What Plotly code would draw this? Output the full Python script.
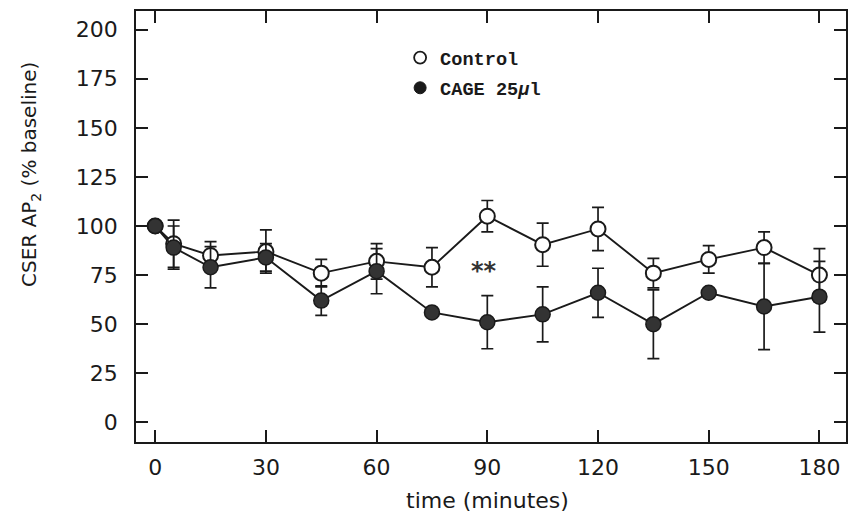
import plotly.graph_objects as go

time = [0, 5, 15, 30, 45, 60, 75, 90, 105, 120, 135, 150, 165, 180]
control = [100, 91, 85, 87, 76, 82, 79, 105, 90.5, 98.5, 76, 83, 89, 75]
control_err = [0, 12, 7, 11, 7, 9, 10, 8, 11, 11, 7.5, 7, 8, 13.5]
cage = [100, 89, 79, 84, 62, 77, 56, 51, 55, 66, 50, 66, 59, 64]
cage_err = [0, 11, 10.5, 7, 7.5, 11.5, 0, 13.5, 14, 12.5, 17.5, 0, 22, 18]

x_ticks = [0, 30, 60, 90, 120, 150, 180]
y_ticks = [0, 25, 50, 75, 100, 125, 150, 175, 200]

BLACK = "#1a1a1a"
SANS = "DejaVu Sans"
fig = go.Figure()

fig.add_trace(go.Scatter(
    x=time, y=control, mode="lines+markers", showlegend=False,
    line=dict(color=BLACK, width=1.9),
    marker=dict(symbol="circle", size=15, color="white", line=dict(color=BLACK, width=2)),
    error_y=dict(type="data", array=control_err, visible=True, color=BLACK, thickness=1.7, width=6),
))
fig.add_trace(go.Scatter(
    x=time, y=cage, mode="lines+markers", showlegend=False,
    line=dict(color=BLACK, width=1.9),
    marker=dict(symbol="circle", size=15, color="#333333", line=dict(color=BLACK, width=1.5)),
    error_y=dict(type="data", array=cage_err, visible=True, color=BLACK, thickness=1.7, width=6),
))

# legend-only entries
fig.add_trace(go.Scatter(
    x=[None], y=[None], mode="markers", name="Control", legendgroup="a",
    marker=dict(symbol="circle", size=12, color="white", line=dict(color=BLACK, width=1.8)),
))
fig.add_trace(go.Scatter(
    x=[None], y=[None], mode="markers", name="CAGE 25<i>μ</i>l", legendgroup="b",
    marker=dict(symbol="circle", size=12, color=BLACK, line=dict(color=BLACK, width=1)),
))

fig.add_annotation(x=89, y=78.5, text="<b>**</b>", showarrow=False,
                   font=dict(family=SANS, size=24, color="#333333"),
                   xanchor="center", yanchor="middle", yshift=-3)

# axis titles
fig.add_annotation(xref="paper", yref="paper", x=0.4955, y=-0.136,
                   text="time (minutes)", showarrow=False,
                   font=dict(family=SANS, size=22, color=BLACK),
                   xanchor="center", yanchor="middle")
fig.add_annotation(xref="paper", yref="paper", x=-0.149, y=0.62,
                   text="CSER AP<sub>2</sub> (% baseline)", showarrow=False, textangle=-90,
                   font=dict(family=SANS, size=20, color=BLACK),
                   xanchor="center", yanchor="middle")

axis_common = dict(
    showline=True, linecolor=BLACK, linewidth=1.8, mirror="ticks",
    ticks="inside", ticklen=12, tickwidth=1.5, tickcolor=BLACK,
    showgrid=False, zeroline=False,
    tickfont=dict(family=SANS, size=22, color=BLACK),
)

fig.update_xaxes(
    range=[-5.2, 187.2], tickvals=x_ticks, ticktext=[str(v) for v in x_ticks],
    ticklabelstandoff=5,
    **axis_common,
)
fig.update_yaxes(
    range=[-10, 209.5], tickvals=y_ticks, ticktext=[str(v) for v in y_ticks],
    ticklabelstandoff=12,
    **axis_common,
)

fig.update_layout(
    width=849, height=526,
    margin=dict(l=136, r=1, t=11, b=84),
    plot_bgcolor="white", paper_bgcolor="white",
    legend=dict(x=0.372, y=0.935, xanchor="left", yanchor="top",
                font=dict(family="Liberation Mono", size=18.6, color=BLACK, weight="bold"),
                bgcolor="rgba(0,0,0,0)", tracegroupgap=3, itemwidth=30),
)

fig.write_html("out.html")
